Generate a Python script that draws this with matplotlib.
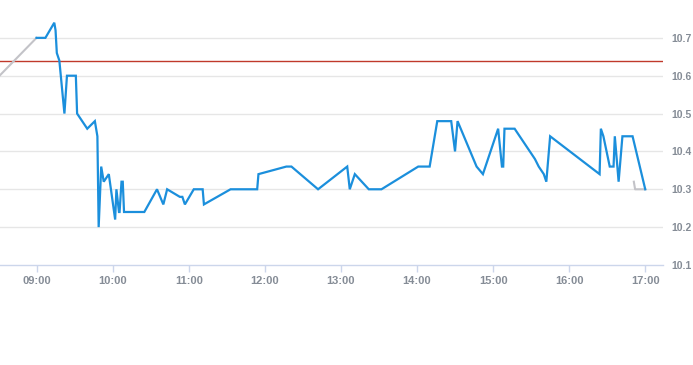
import matplotlib
matplotlib.use("Agg")
import matplotlib.pyplot as plt
import pandas as pd

day = "2024-01-02 "

main_times = ["09:00", "09:07", "09:14", "09:15", "09:16", "09:18", "09:22", "09:24", "09:31", "09:32",
              "09:40", "09:46", "09:48", "09:49", "09:51", "09:53", "09:57", "10:02", "10:03", "10:05",
              "10:05:30", "10:07", "10:08", "10:09", "10:25", "10:35", "10:40", "10:43", "10:53", "10:55",
              "10:57", "11:04", "11:11", "11:12", "11:33", "11:54", "11:55", "12:17", "12:21", "12:42",
              "13:05", "13:07", "13:11", "13:22", "13:32", "14:01", "14:10", "14:16", "14:27", "14:30",
              "14:32", "14:47", "14:52", "15:04", "15:07", "15:08", "15:09", "15:17", "15:33", "15:36",
              "15:40", "15:42", "15:45", "16:24", "16:25", "16:27", "16:32", "16:35", "16:36", "16:39",
              "16:42", "16:50", "17:00"]
main_values = [10.70, 10.70, 10.74, 10.72, 10.66, 10.64, 10.50, 10.60, 10.60, 10.50,
               10.46, 10.48, 10.44, 10.20, 10.36, 10.32, 10.34, 10.22, 10.30, 10.24,
               10.24, 10.32, 10.32, 10.24, 10.24, 10.30, 10.26, 10.30, 10.28, 10.28,
               10.26, 10.30, 10.30, 10.26, 10.30, 10.30, 10.34, 10.36, 10.36, 10.30,
               10.36, 10.30, 10.34, 10.30, 10.30, 10.36, 10.36, 10.48, 10.48, 10.40,
               10.48, 10.36, 10.34, 10.46, 10.36, 10.36, 10.46, 10.46, 10.38, 10.36,
               10.34, 10.32, 10.44, 10.34, 10.46, 10.44, 10.36, 10.36, 10.44, 10.32,
               10.44, 10.44, 10.30]

pre_times = ["08:25", "09:00"]
pre_values = [10.58, 10.70]

post_times = ["16:51", "16:52", "17:00"]
post_values = [10.32, 10.30, 10.30]

ref_level = 10.64
y_ticks = [10.1, 10.2, 10.3, 10.4, 10.5, 10.6, 10.7]
x_tick_labels = ["09:00", "10:00", "11:00", "12:00", "13:00", "14:00", "15:00", "16:00", "17:00"]


def tt(lst):
    return pd.to_datetime([day + (t if t.count(":") == 2 else t + ":00") for t in lst])


fig = plt.figure(figsize=(6.93, 3.65), dpi=100)
ax = fig.add_axes([0.0, 0.274, 663 / 693, 0.726])

grid_c = "#e6e6e6"
label_c = "#858c96"

for v in y_ticks[1:]:
    ax.axhline(v, color=grid_c, lw=1, zorder=0)

ax.axhline(ref_level, color="#c0392b", lw=1, zorder=2)
ax.plot(tt(pre_times), pre_values, color="#c3c3c8", lw=1.5, zorder=3)
ax.plot(tt(post_times), post_values, color="#c3c3c8", lw=1.5, zorder=3)
ax.plot(tt(main_times), main_values, color="#1b8fdc", lw=1.6, zorder=4, solid_joinstyle="miter")

ax.set_xlim(pd.Timestamp(day + "08:31:12"), pd.Timestamp(day + "17:14:00"))
ax.set_ylim(10.1, 10.8)

ax.set_yticks(y_ticks)
ax.set_yticklabels([f"{v:.1f}" for v in y_ticks])
ax.yaxis.tick_right()
ax.tick_params(axis="y", length=0, pad=6.3, labelsize=7.5, labelcolor=label_c)

ax.set_xticks(tt(x_tick_labels))
ax.set_xticklabels(x_tick_labels)
ax.tick_params(axis="x", length=5, width=1, color="#ccd6eb", pad=3, labelsize=8, labelcolor=label_c)

for s in ["top", "left", "right"]:
    ax.spines[s].set_visible(False)
ax.spines["bottom"].set_color("#ccd6eb")
ax.spines["bottom"].set_linewidth(1)

for lab in ax.get_xticklabels() + ax.get_yticklabels():
    lab.set_fontweight("bold")
    lab.set_family("Liberation Sans")

fig.savefig("out.png", dpi=100)
